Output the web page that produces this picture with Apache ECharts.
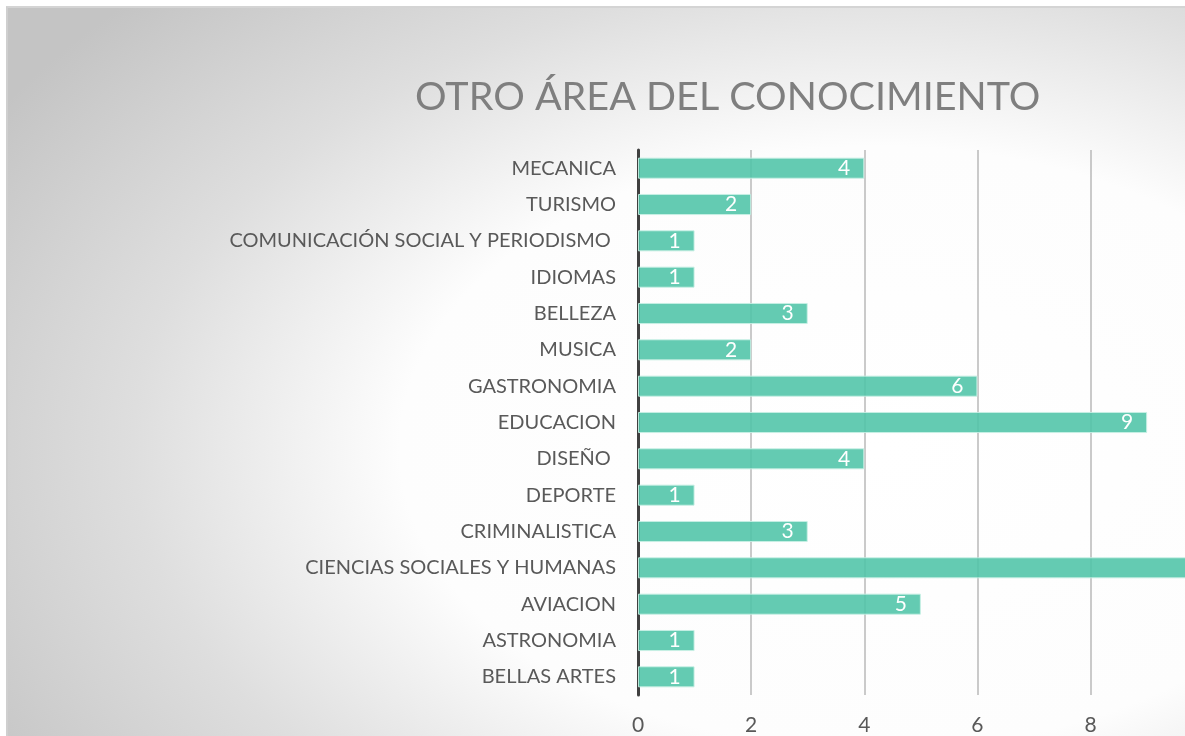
<!DOCTYPE html>
<html>
<head>
<meta charset="utf-8">
<script src="https://cdn.jsdelivr.net/npm/echarts@6/dist/echarts.min.js"></script>
<style>
html,body{margin:0;padding:0;width:1185px;height:736px;overflow:hidden;background:#ffffff;}
#bg{position:absolute;left:6px;top:6px;width:1400px;height:800px;border-top:2px solid #d4d4d4;border-left:2px solid #cfcfcf;
background:radial-gradient(ellipse 920px 580px at 870px 440px,#ffffff 0%,#fdfdfd 52%,#dedede 81%,#c4c4c4 112%);}
#chart{position:absolute;left:0;top:0;width:1600px;height:736px;}
</style>
</head>
<body>
<div id="bg"></div>
<div id="chart"></div>
<script>
const categories = ['MECANICA','TURISMO','COMUNICACIÓN SOCIAL Y PERIODISMO ','IDIOMAS','BELLEZA','MUSICA','GASTRONOMIA','EDUCACION','DISEÑO ','DEPORTE','CRIMINALISTICA','CIENCIAS SOCIALES Y HUMANAS','AVIACION','ASTRONOMIA','BELLAS ARTES'];
const values = [4,2,1,1,3,2,6,9,4,1,3,12,5,1,1];
const titleText = 'OTRO ÁREA DEL CONOCIMIENTO';
const xMin = 0, xMax = 14, xStep = 2;

const chart = echarts.init(document.getElementById('chart'), null, {renderer:'canvas'});
chart.setOption({
  backgroundColor: 'transparent',
  animation: false,
  textStyle: {fontFamily: 'Lato'},
  title: {
    text: titleText,
    left: 410, top: 72,
    textStyle: {fontFamily: 'Lato', fontSize: 39.5, fontWeight: 'normal', color: '#7f7f7f'}
  },
  grid: {left: 638, top: 150, width: 792, height: 554, containLabel: false},
  xAxis: {
    type: 'value', min: xMin, max: xMax, interval: xStep,
    axisLine: {show: false}, axisTick: {show: false},
    splitLine: {show: true, lineStyle: {color: '#b8b8b8', width: 1.5}},
    axisLabel: {color: '#595959', fontSize: 21, margin: 20, fontFamily: 'Lato'}
  },
  yAxis: {
    type: 'category', data: categories, inverse: true,
    axisLine: {show: true, lineStyle: {color: '#404040', width: 3}},
    axisTick: {show: false},
    axisLabel: {color: '#595959', fontSize: 20, margin: 22, fontFamily: 'Lato'}
  },
  series: [{
    type: 'bar', data: values, barCategoryGap: '42%',
    itemStyle: {color: 'rgba(79,196,167,0.88)', borderColor: 'rgba(200,240,228,0.9)', borderWidth: 1},
    label: {show: true, position: 'insideRight', distance: 14, color: '#ffffff', fontSize: 21, fontFamily: 'Lato'}
  }]
});
</script>
</body>
</html>
